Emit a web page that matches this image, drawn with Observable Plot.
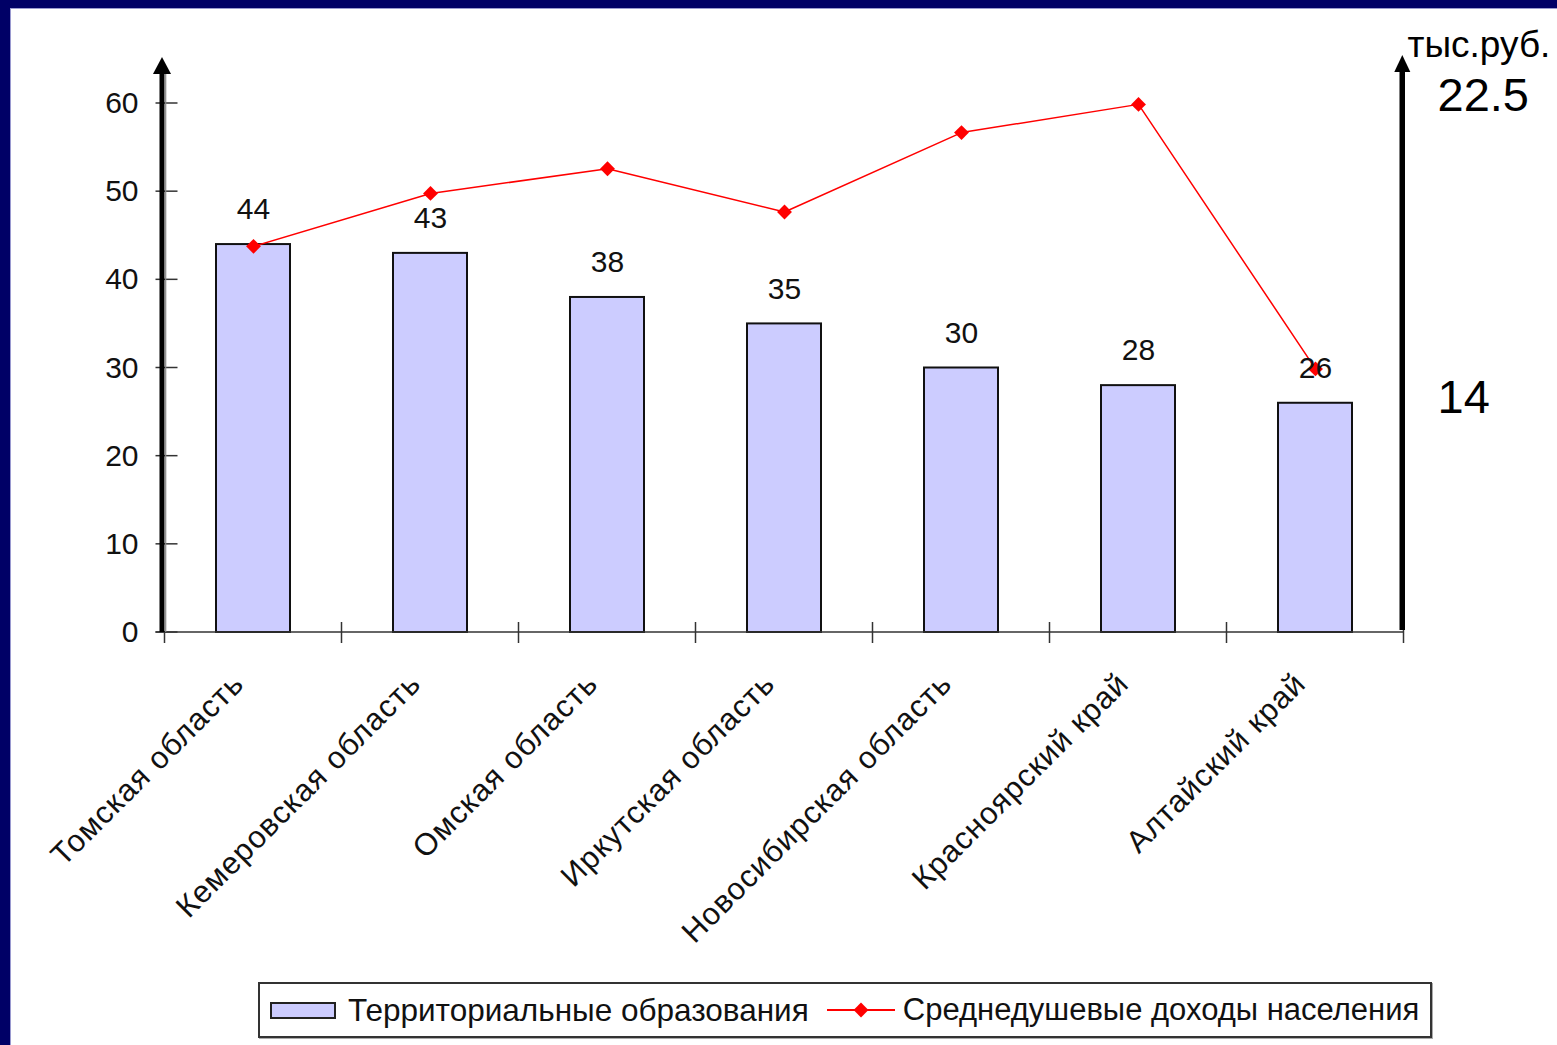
<!DOCTYPE html>
<html>
<head>
<meta charset="utf-8">
<script src="https://cdn.jsdelivr.net/npm/d3@7"></script>
<script src="https://cdn.jsdelivr.net/npm/@observablehq/plot@0.6"></script>
<style>
html, body { margin: 0; padding: 0; background: #fff; }
#frame {
  position: relative; width: 1557px; height: 1045px; box-sizing: border-box;
  border-top: 8px solid #000066; border-left: 10px solid #000066;
  box-shadow: inset 1px 1px 0 #9a9ad0; background: #fff; overflow: hidden;
  font-family: "Liberation Sans", Arial, sans-serif;
}
#chart { position: absolute; left: 0; top: 0; }
#legend {
  position: absolute; left: 248px; top: 974px; width: 1174px; height: 56px;
  box-sizing: border-box; border: 2px solid #333; box-shadow: 1px 1px 0 #aaa;
  display: flex; align-items: center; font-size: 31.5px; color: #111; white-space: nowrap;
}
#legend span.second { font-size: 31px; }
.swatch { width: 66px; height: 17px; box-sizing: border-box; background: #ccccff; border: 2px solid #222; margin-left: 10px; margin-right: 12px; }
.linekey { margin-left: 18px; margin-right: 8px; }
#chart svg g[aria-label="x-axis tick label"] text { letter-spacing: 1px; }
</style>
</head>
<body>
<div id="frame">
  <div id="chart"></div>
  <div id="legend"></div>
</div>
<script>
// ---- data ----
const regions = ["Томская область", "Кемеровская область", "Омская область", "Иркутская область", "Новосибирская область", "Красноярский край", "Алтайский край"];
const territorialUnits = [44, 43, 38, 35, 30, 28, 26];
const incomeLevel = [43.8, 49.8, 52.6, 47.7, 56.7, 59.9, 29.9];
const yTicks = [0, 10, 20, 30, 40, 50, 60];
const rightUnit = "тыс.руб.";
const rightLabels = ["22.5", "14"];
const rightLabelLevels = [61, 26.7];
const legendLabels = ["Территориальные образования", "Среднедушевые доходы населения"];

const data = regions.map((r, i) => ({region: r, count: territorialUnits[i], income: incomeLevel[i]}));

const plot = Plot.plot({
  width: 1547, height: 960,
  marginLeft: 155, marginRight: 153, marginTop: 95, marginBottom: 336,
  style: {fontFamily: '"Liberation Sans", Arial, sans-serif', fontSize: "30px", color: "#111", background: "transparent", overflow: "visible"},
  x: {type: "band", domain: regions, paddingInner: 0.58, paddingOuter: 0.29, align: 0.5, label: null},
  y: {domain: [0, 60], label: null},
  marks: [
    Plot.barY(data, {x: "region", y: "count", fill: "#ccccff", stroke: "#111", strokeWidth: 2}),
    Plot.line(data, {x: "region", y: "income", stroke: "#ff0000", strokeWidth: 1.5}),
    Plot.dot(data, {x: "region", y: "income", symbol: "diamond2", r: 6.7, fill: "#ff0000", stroke: "none"}),
    Plot.text(data, {x: "region", y: "count", text: d => String(d.count), dy: -35, fontSize: 30, fill: "#111"}),
    Plot.axisY({ticks: yTicks, tickSize: 0, tickPadding: 27, fontSize: 30, tickFormat: d => String(d), fill: "#111"}),
    Plot.axisX({tickRotate: -45, tickSize: 0, tickPadding: 46, dx: -15, fontSize: 31, fill: "#111"})
  ]
});
document.getElementById("chart").appendChild(plot);

// ---- axis decorations derived from the scales ----
const xs = plot.scale("x"), ys = plot.scale("y");
const bw = xs.bandwidth, step = xs.step, gap = (step - bw) / 2;
const starts = regions.map(r => xs.apply(r));
const bounds = [starts[0] - gap, ...starts.map(s => s + bw + gap)];
const left = bounds[0], right = bounds[bounds.length - 1];
const y0 = ys.apply(0), yTop = ys.apply(60);
const tip = yTop - 46;
const g = d3.select(plot).append("g").attr("text-anchor", "start");

g.append("line").attr("x1", left - 9).attr("x2", right).attr("y1", y0).attr("y2", y0)
  .attr("stroke", "#333").attr("stroke-width", 1.5);
bounds.forEach((b, i) => {
  g.append("line").attr("x1", b).attr("x2", b).attr("y1", i === 0 ? y0 : y0 - 10).attr("y2", y0 + 11)
    .attr("stroke", "#333").attr("stroke-width", 1.5);
});
yTicks.forEach(t => {
  g.append("line").attr("x1", left - 9).attr("x2", left + 13).attr("y1", ys.apply(t)).attr("y2", ys.apply(t))
    .attr("stroke", "#333").attr("stroke-width", 1.5);
});
// left axis
g.append("rect").attr("x", left - 5).attr("y", tip + 15).attr("width", 5).attr("height", y0 - tip - 15).attr("fill", "#000");
g.append("line").attr("x1", left + 1.2).attr("x2", left + 1.2).attr("y1", tip + 15).attr("y2", y0).attr("stroke", "#888").attr("stroke-width", 1.2);
g.append("path").attr("d", `M${left - 2.5},${tip} L${left + 6.5},${tip + 17} L${left - 11.5},${tip + 17} Z`).attr("fill", "#000");
// right axis
const rt = tip - 2;
g.append("rect").attr("x", right - 4).attr("y", rt + 15).attr("width", 5.5).attr("height", y0 - 2 - rt - 15).attr("fill", "#000");
g.append("path").attr("d", `M${right - 1.2},${rt} L${right + 6.8},${rt + 17} L${right - 9.2},${rt + 17} Z`).attr("fill", "#000");
// right labels
g.append("text").attr("x", right + 4).attr("y", tip).attr("font-size", 37).attr("fill", "#000").text(rightUnit);
rightLabels.forEach((lab, i) => {
  g.append("text").attr("x", right + 34).attr("y", ys.apply(rightLabelLevels[i])).attr("dy", "0.35em")
    .attr("font-size", 47).attr("fill", "#000").text(lab);
});

// ---- legend ----
const legend = d3.select("#legend");
legend.append("div").attr("class", "swatch");
legend.append("span").text(legendLabels[0]);
const lk = legend.append("svg").attr("class", "linekey").attr("width", 68).attr("height", 20);
lk.append("line").attr("x1", 0).attr("x2", 68).attr("y1", 10).attr("y2", 10).attr("stroke", "#ff0000").attr("stroke-width", 2);
lk.append("path").attr("d", d3.symbol(d3.symbolDiamond2, 140)()).attr("transform", "translate(34,10)").attr("fill", "#ff0000");
legend.append("span").attr("class", "second").text(legendLabels[1]);
</script>
</body>
</html>
